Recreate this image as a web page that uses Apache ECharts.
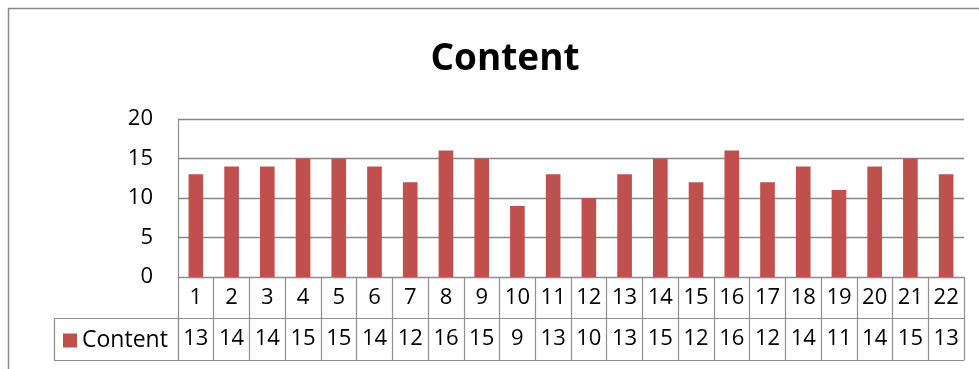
<!DOCTYPE html>
<html>
<head>
<meta charset="utf-8">
<script src="https://cdn.jsdelivr.net/npm/echarts@6/dist/echarts.min.js"></script>
<style>
  html, body { margin: 0; padding: 0; background: #fff; }
  #chart { width: 979px; height: 369px; }
</style>
</head>
<body>
<div id="chart"></div>
<script>
// Row labels of the data table / x categories
const categories = ['1','2','3','4','5','6','7','8','9','10','11','12','13','14','15','16','17','18','19','20','21','22'];
// Content values per category
const contentValues = [13,14,14,15,15,14,12,16,15,9,13,10,13,15,12,16,12,14,11,14,15,13];
// Value axis ticks
const yTicks = [0, 5, 10, 15, 20];

const FONT = '"Open Sans", "Liberation Sans", sans-serif';
const LINE = '#8e8e8e';
const BAR = '#C0504D';
const ROW_H = 41;

const chart = echarts.init(document.getElementById('chart'), null, { renderer: 'canvas' });

const tableAxisBase = {
  type: 'category',
  data: categories,
  position: 'bottom',
  boundaryGap: true,
  axisLine: { show: true, lineStyle: { color: LINE, width: 1.2 } },
  axisTick: { show: true, interval: 0, length: ROW_H, lineStyle: { color: LINE, width: 1.2 } },
  splitLine: { show: false }
};

chart.setOption({
  animation: false,
  textStyle: { fontFamily: FONT },
  title: {
    text: 'Content',
    left: 500,
    textAlign: 'center',
    top: 36,
    textStyle: { fontFamily: FONT, fontWeight: 'bold', fontSize: 37, color: '#000' }
  },
  legend: {
    data: ['Content'],
    left: 63,
    top: 329,
    padding: 0,
    icon: 'rect',
    itemWidth: 14,
    itemHeight: 14,
    itemGap: 0,
    textStyle: { fontFamily: FONT, fontSize: 23, color: '#000', lineHeight: 18 }
  },
  grid: { left: 178, right: 15, top: 119, bottom: 92, containLabel: false },
  xAxis: [
    Object.assign({}, tableAxisBase, {
      axisLabel: {
        interval: 0, margin: ROW_H / 2, verticalAlign: 'middle',
        fontSize: 22, color: '#000', fontFamily: FONT
      }
    }),
    Object.assign({}, tableAxisBase, {
      offset: ROW_H,
      axisTick: { show: true, interval: 0, length: ROW_H + 1, lineStyle: { color: LINE, width: 1.2 } },
      axisLabel: {
        interval: 0, margin: ROW_H / 2 + 0.5, verticalAlign: 'middle',
        fontSize: 22, color: '#000', fontFamily: FONT,
        formatter: (v, i) => String(contentValues[i])
      }
    }),
    Object.assign({}, tableAxisBase, {
      offset: ROW_H * 2 + 1,
      axisTick: { show: false },
      axisLabel: { show: false }
    })
  ],
  yAxis: {
    type: 'value',
    min: yTicks[0],
    max: yTicks[yTicks.length - 1],
    interval: yTicks[1] - yTicks[0],
    axisLine: { show: true, lineStyle: { color: LINE, width: 1.2 } },
    axisTick: { show: false },
    axisLabel: { margin: 25, fontSize: 22, color: '#000', fontFamily: FONT },
    splitLine: { show: true, lineStyle: { color: '#878787', width: 1.3 } }
  },
  series: [{
    name: 'Content',
    type: 'bar',
    xAxisIndex: 0,
    data: contentValues,
    barWidth: '41%',
    itemStyle: { color: BAR }
  }],
  graphic: [
    // outer chart frame (top and left edges)
    { type: 'polyline', shape: { points: [[8.5, 369], [8.5, 8.5], [979, 8.5]] },
      style: { stroke: '#8a8a8a', lineWidth: 1.5, fill: null }, silent: true },
    // legend cell of the data table
    { type: 'rect', shape: { x: 54.5, y: 318.5, width: 124, height: 42 },
      style: { stroke: LINE, lineWidth: 1.2, fill: null }, silent: true },
    // heading text above the frame
    { type: 'text', left: 10, top: -22,
      style: { text: 'Content', font: 'bold 24px ' + FONT, fill: '#000' }, silent: true }
  ]
});
</script>
</body>
</html>
